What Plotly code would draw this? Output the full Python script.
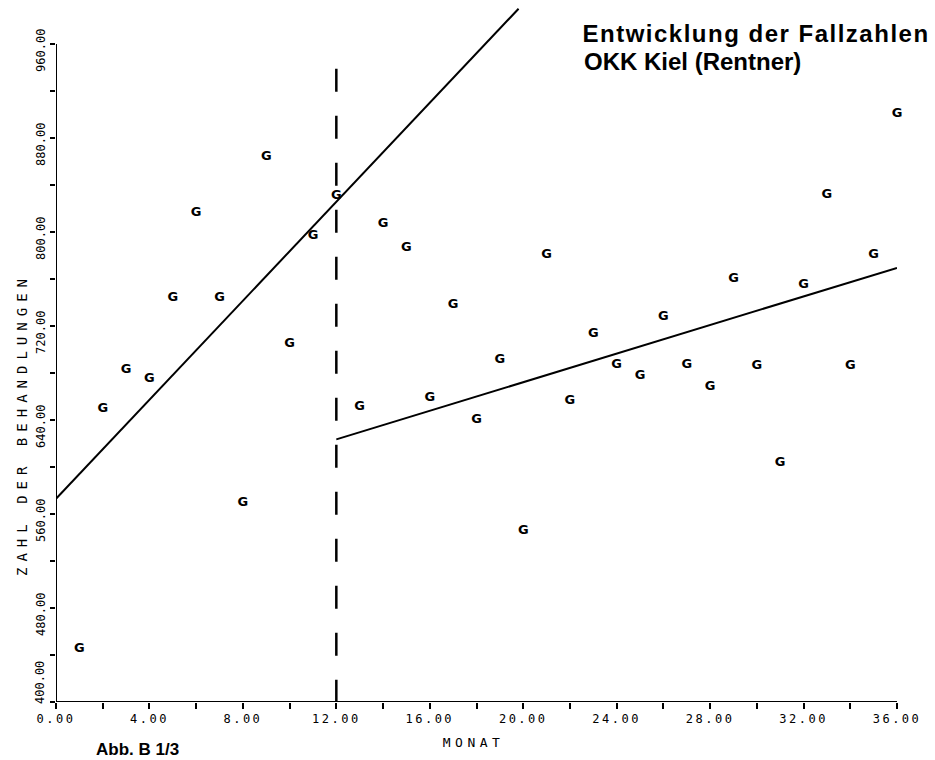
import json
import plotly.graph_objects as go

# Monthly case counts (Fallzahlen), months 1..36
months = list(range(1, 37))
cases = [445, 650, 683, 675, 744, 816, 744, 570, 864, 705, 797, 831,
         651, 807, 787, 659, 738, 640, 691, 546, 781, 656, 713, 687,
         678, 728, 687, 668, 760, 686, 604, 755, 832, 686, 781, 901]

# Fitted trend before and after the change at month 12
trend_pre_x = [0, 19.8]
trend_pre_y = [573, 990]
trend_post_x = [12, 36]
trend_post_y = [623.5, 769.5]

# Vertical marker at the break month
break_x = [12, 12]
break_y = [939, 400]

# Axis ticks
x_tickvals = list(range(0, 37, 2))
x_ticktext = [f"{v:.2f}" if v % 4 == 0 else "" for v in x_tickvals]
y_tickvals = list(range(400, 961, 40))
y_ticktext = [f"{v:.2f}" if v % 80 == 0 else "" for v in y_tickvals]
# the lowest label is set separately, lifted clear of the x-axis labels
y_bottom_label = y_ticktext[0]
y_ticktext[0] = ""

plot_font = "DejaVu Sans Mono"
title_font = "Liberation Sans"

fig = go.Figure()

fig.add_trace(go.Scatter(
    x=break_x, y=break_y, mode="lines",
    line=dict(color="black", width=2.5, dash="23px,24px"),
    showlegend=False, hoverinfo="skip"))

fig.add_trace(go.Scatter(
    x=trend_pre_x, y=trend_pre_y, mode="lines",
    line=dict(color="black", width=2),
    showlegend=False, hoverinfo="skip"))

fig.add_trace(go.Scatter(
    x=trend_post_x, y=trend_post_y, mode="lines",
    line=dict(color="black", width=2),
    showlegend=False, hoverinfo="skip"))

fig.add_trace(go.Scatter(
    x=months, y=cases, mode="text", text=["G"] * len(months),
    textposition="middle center",
    textfont=dict(family="DejaVu Sans", size=13, color="black", weight="bold"),
    cliponaxis=False, showlegend=False))

# Axis lines drawn only over the labelled span
fig.add_shape(type="line", xref="x", yref="y", x0=0, x1=0, y0=400, y1=960,
              line=dict(color="black", width=2))
fig.add_shape(type="line", xref="x", yref="y", x0=0, x1=36, y0=400, y1=400,
              line=dict(color="black", width=2))

H_PLOT = 702.0
W_PLOT = 841.0

def px_x(px):
    return (px - 56) / W_PLOT

def px_y(px):
    return 1 - px / H_PLOT

annotations = [
    dict(text="Entwicklung der Fallzahlen", x=px_x(756), y=px_y(33.4),
         xanchor="center", yanchor="middle",
         font=dict(family=title_font, size=24, color="black", weight="bold")),
    dict(text="OKK Kiel (Rentner)", x=px_x(583), y=px_y(61.7),
         xanchor="left", yanchor="middle",
         font=dict(family=title_font, size=24, color="black", weight="bold")),
    dict(text="MONAT", x=px_x(473), y=px_y(742),
         xanchor="center", yanchor="middle",
         font=dict(family=plot_font, size=13, color="black")),
    dict(text="ZAHL DER BEHANDLUNGEN", x=px_x(22), y=px_y(425),
         xanchor="center", yanchor="middle", textangle=-90,
         font=dict(family=plot_font, size=14, color="black")),
    dict(text="Abb. B 1/3", x=px_x(95), y=px_y(749),
         xanchor="left", yanchor="middle",
         font=dict(family=title_font, size=17, color="black", weight="bold")),
    dict(text=y_bottom_label, x=px_x(40), y=px_y(683),
         xanchor="center", yanchor="middle", textangle=-90,
         font=dict(family=plot_font, size=12, color="black")),
]
for a in annotations:
    a.update(xref="paper", yref="paper", showarrow=False, borderpad=0)

fig.update_layout(
    width=935, height=760,
    margin=dict(l=56, r=38, t=0, b=58),
    paper_bgcolor="white", plot_bgcolor="white",
    annotations=annotations,
    xaxis=dict(range=[0, 36], tickmode="array", tickvals=x_tickvals,
               ticktext=x_ticktext, ticks="outside", ticklen=6, tickwidth=1.5,
               tickcolor="black", showgrid=False, zeroline=False,
               showline=False,
               tickfont=dict(family=plot_font, size=12, color="black")),
    yaxis=dict(range=[400, 400 + H_PLOT / 1.175], tickmode="array",
               tickvals=y_tickvals, ticktext=y_ticktext, tickangle=-90,
               ticks="outside", ticklen=5, tickwidth=1.5, tickcolor="black",
               showgrid=False, zeroline=False, showline=False,
               ticklabelshift=8,
               tickfont=dict(family=plot_font, size=12, color="black")),
)

# Wide plotter-style character spacing for axis texts
css = (
    ".xtick text{letter-spacing:2.5px}"
    "g.annotation[data-index='0'] text{letter-spacing:1.5px}"
    "g.annotation[data-index='2'] text{letter-spacing:4.5px}"
    "g.annotation[data-index='3'] text{letter-spacing:6px}"
)
post = ("var s=document.createElement('style');s.textContent=" + json.dumps(css) +
        ";document.head.appendChild(s);")

fig.write_html("out.html", post_script=post)
